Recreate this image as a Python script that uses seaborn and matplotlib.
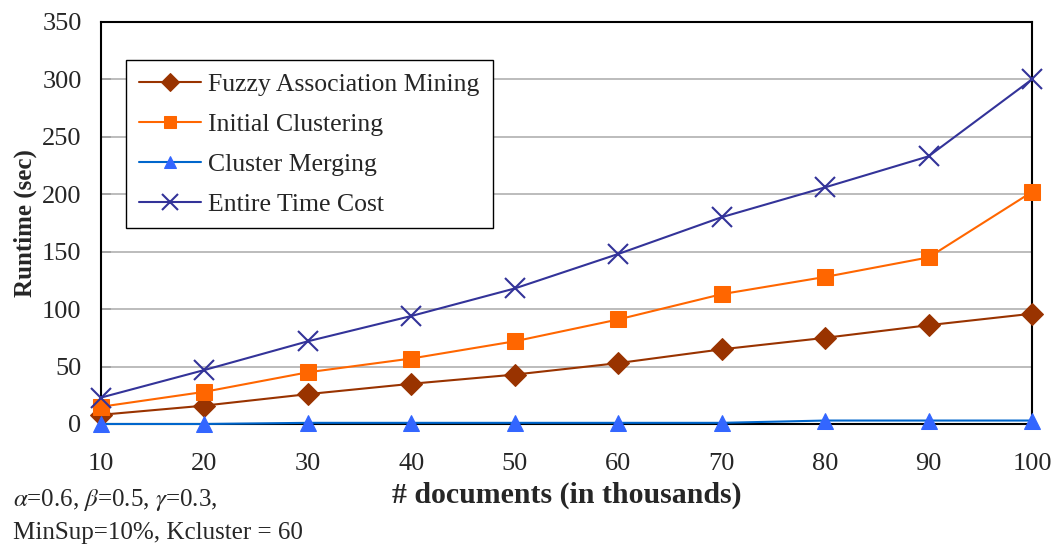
import matplotlib
matplotlib.use("Agg")
import matplotlib.pyplot as plt
import seaborn as sns
import pandas as pd

docs = [10, 20, 30, 40, 50, 60, 70, 80, 90, 100]
fuzzy = [8, 16, 26, 35, 43, 53, 65, 75, 86, 96]
initial = [15, 28, 45, 57, 72, 91, 113, 128, 145, 202]
merging = [0, 0, 1, 1, 1, 1, 1, 3, 3, 3]
entire = [23, 47, 72, 94, 118, 148, 180, 206, 233, 300]
series_names = ["Fuzzy Association Mining", "Initial Clustering", "Cluster Merging", "Entire Time Cost"]
y_ticks = [0, 50, 100, 150, 200, 250, 300, 350]

sns.set_theme(style="white")
plt.rcParams['font.family'] = ['Liberation Serif', 'DejaVu Serif']
plt.rcParams['mathtext.fontset'] = 'stix'

fig = plt.figure(figsize=(10.59, 5.48), dpi=100)
ax = fig.add_axes([0.0954, 0.2263, 0.8791, 0.7337])

styles = [
    dict(color="#993300", marker="D", markersize=11, mfc="#993300", mec="#993300"),
    dict(color="#FF6600", marker="s", markersize=11, mfc="#FF6600", mec="#FF6600"),
    dict(color="#0066CC", marker="^", markersize=11, mfc="#3366FF", mec="#3366FF"),
    dict(color="#333399", marker="x", markersize=14, mfc="#333399", mec="#333399", mew=1.5),
]
for name, vals, st in zip(series_names, [fuzzy, initial, merging, entire], styles):
    df = pd.DataFrame({"docs": docs, "val": vals})
    sns.lineplot(data=df, x="docs", y="val", ax=ax, label=name, linewidth=1.5,
                 clip_on=False, zorder=3, **st)

ax.set_xlim(10, 100)
ax.set_ylim(0, 350)
ax.set_yticks(y_ticks)
ax.set_xticks(docs)
for y in y_ticks[1:-1]:
    ax.axhline(y, color="#B0B0B0", linewidth=1.2, zorder=1)
for s in ax.spines.values():
    s.set_color("black")
    s.set_linewidth(1.5)
ax.tick_params(axis='y', which='major', direction='in', length=7, width=1.2, color='#555555',
               labelsize=19, pad=14, left=True)
ax.tick_params(axis='x', which='major', length=0, labelsize=19, pad=21)
ax.set_xlabel("# documents (in thousands)", fontsize=21.5, fontweight='bold', labelpad=5)
ax.set_ylabel("Runtime (sec)", fontsize=18, fontweight='bold', labelpad=4)

leg = ax.legend(loc="upper left", bbox_to_anchor=(0.0269, 0.9055), borderaxespad=0,
                fontsize=18.5, frameon=True, markerscale=0.8,
                fancybox=False, edgecolor="black", borderpad=0.5, labelspacing=0.66,
                handlelength=2.4, handletextpad=0.3)
leg.get_frame().set_linewidth(1.0)
leg.get_frame().set_alpha(1)

fig.text(0.012, 0.088, r"$\alpha$=0.6, $\beta$=0.5, $\gamma$=0.3,", fontsize=18, va='center')
fig.text(0.012, 0.028, "MinSup=10%, Kcluster = 60", fontsize=18, va='center')

fig.savefig("out.png", dpi=100)
